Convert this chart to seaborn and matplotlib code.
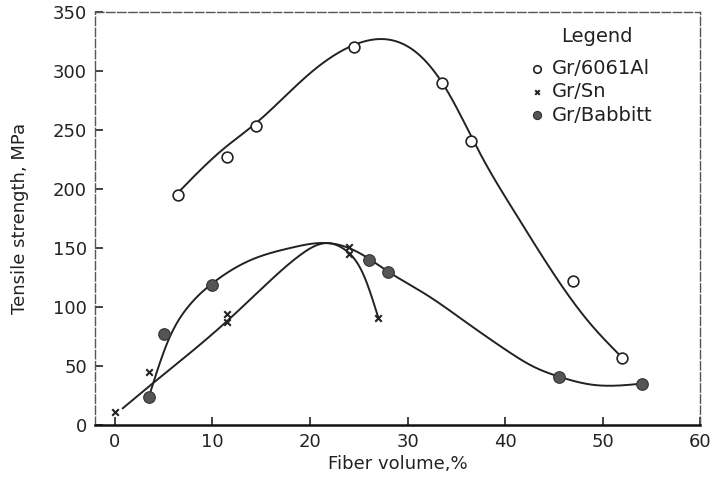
import numpy as np
import pandas as pd
import matplotlib
matplotlib.use("Agg")
import matplotlib.pyplot as plt
import seaborn as sns

# ---- measured points ----
al_x = [6.5, 11.5, 14.5, 24.5, 33.5, 36.5, 47.0, 52.0]
al_y = [195, 227, 253, 320, 290, 241, 122, 57]
sn_x = [0.0, 3.5, 11.5, 11.5, 24.0, 24.0, 27.0]
sn_y = [11, 45, 87, 94, 145, 151, 91]
bb_x = [3.5, 5.0, 10.0, 26.0, 28.0, 45.5, 54.0]
bb_y = [24, 77, 119, 140, 130, 41, 35]

# ---- hand-drawn fit curves (knots) ----
al_cx = [6.5, 11.0, 14.5, 20.0, 24.5, 27.5, 31.0, 34.0, 37.5, 41.0, 44.5, 48.5, 52.0]
al_cy = [197, 233, 256, 298, 322, 327, 315, 284, 229, 180, 134, 88, 57]
sn_cx = [0.8, 4.0, 8.0, 11.5, 15.5, 19.0, 21.5, 23.5, 25.5, 27.0]
sn_cy = [14, 36, 63, 88, 119, 144, 154, 149, 127, 91]
bb_cx = [3.5, 5.5, 7.5, 10.0, 14.0, 18.0, 22.0, 25.0, 28.0, 32.0, 36.0, 40.0, 43.0, 45.5, 49.0, 54.0]
bb_cy = [24, 72, 100, 120, 140, 150, 154, 146, 130, 110, 87, 64, 49, 41, 34, 35]

labels = ["Gr/6061Al", "Gr/Sn", "Gr/Babbitt"]
x_ticks = [0, 10, 20, 30, 40, 50, 60]
y_ticks = [0, 50, 100, 150, 200, 250, 300, 350]


def spline(xs, ys, n=400):
    """Natural cubic spline through the knots (smooth drawing of the fit line)."""
    x = np.asarray(xs, float)
    y = np.asarray(ys, float)
    k = len(x)
    h = np.diff(x)
    A = np.zeros((k, k))
    b = np.zeros(k)
    A[0, 0] = A[-1, -1] = 1
    for i in range(1, k - 1):
        A[i, i - 1] = h[i - 1]
        A[i, i] = 2 * (h[i - 1] + h[i])
        A[i, i + 1] = h[i]
        b[i] = 6 * ((y[i + 1] - y[i]) / h[i] - (y[i] - y[i - 1]) / h[i - 1])
    M = np.linalg.solve(A, b)
    xx = np.linspace(x[0], x[-1], n)
    idx = np.clip(np.searchsorted(x, xx) - 1, 0, k - 2)
    x0, x1 = x[idx], x[idx + 1]
    hh = x1 - x0
    a = (x1 - xx) / hh
    c = (xx - x0) / hh
    yy = (a * y[idx] + c * y[idx + 1]
          + ((a ** 3 - a) * M[idx] + (c ** 3 - c) * M[idx + 1]) * hh ** 2 / 6)
    return xx, yy


sns.set_style("ticks")
plt.rcParams['font.family'] = ['DejaVu Sans']

fig = plt.figure(figsize=(7.11, 4.78), dpi=100)
ax = fig.add_axes([0.134, 0.111, 0.851, 0.864])

for cx, cy in [(al_cx, al_cy), (sn_cx, sn_cy), (bb_cx, bb_cy)]:
    sx, sy = spline(cx, cy)
    df = pd.DataFrame({"x": sx, "y": sy})
    sns.lineplot(data=df, x="x", y="y", sort=False, estimator=None, color="#222222",
                 linewidth=1.4, ax=ax, legend=False)

sns.scatterplot(x=al_x, y=al_y, marker="o", s=60, facecolor="white", edgecolor="#222222",
                linewidth=1.2, ax=ax, label=labels[0], zorder=5)
sns.scatterplot(x=sn_x, y=sn_y, marker="x", s=22, color="#222222", linewidth=1.5,
                ax=ax, label=labels[1], zorder=5)
sns.scatterplot(x=bb_x, y=bb_y, marker="o", s=70, color="#555555", edgecolor="#333333",
                linewidth=0.8, ax=ax, label=labels[2], zorder=5)

ax.set_xlim(-2, 60)
ax.set_ylim(0, 350)
ax.set_xticks(x_ticks)
ax.set_yticks(y_ticks)
ax.tick_params(direction="in", length=6, width=1.2, labelsize=13, colors="#222222", pad=6)
ax.set_xlabel("Fiber volume,%", fontsize=13, color="#222222", labelpad=3)
ax.set_ylabel("Tensile strength, MPa", fontsize=13, color="#222222", labelpad=17)

for side in ["top", "right", "left"]:
    ax.spines[side].set_visible(True)
    ax.spines[side].set_linestyle((0, (6, 2)))
    ax.spines[side].set_color("#555555")
    ax.spines[side].set_linewidth(1.0)
ax.spines["bottom"].set_linewidth(1.8)
ax.spines["bottom"].set_color("#111111")

fig.text(597 / 711, 1 - 37 / 478, "Legend", fontsize=14, color="#222222",
         ha="center", va="center")
leg = ax.legend(loc="upper left", bbox_to_anchor=(525 / 711, 1 - 59 / 478),
                bbox_transform=fig.transFigure, frameon=False, fontsize=14,
                handletextpad=0.2, handlelength=1.2, borderpad=0,
                labelspacing=0.22, markerscale=0.7, borderaxespad=0)
for t in leg.get_texts():
    t.set_color("#222222")

fig.savefig("out.png", dpi=100)
